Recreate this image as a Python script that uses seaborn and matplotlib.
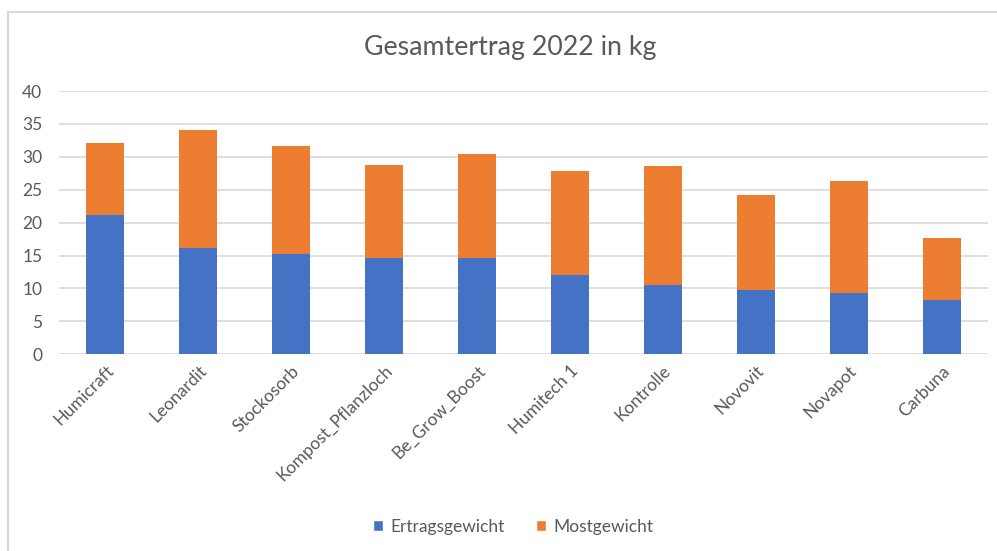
"""
Gesamtertrag 2022 in kg - stacked bars (Ertragsgewicht + Mostgewicht)
"""
import pandas as pd
import matplotlib.pyplot as plt
import seaborn as sns
from matplotlib.patches import Patch, Rectangle

# data
varianten = ['Humicraft', 'Leonardit', 'Stockosorb', 'Kompost_Pflanzloch', 'Be_Grow_Boost',
             'Humitech 1', 'Kontrolle', 'Novovit', 'Novapot', 'Carbuna']
ertragsgewicht = [21.1, 16.2, 15.3, 14.6, 14.6, 12.0, 10.6, 9.7, 9.3, 8.2]
mostgewicht = [11.0, 17.9, 16.3, 14.1, 15.9, 15.9, 18.0, 14.5, 17.1, 9.4]
y_ticks = [0, 5, 10, 15, 20, 25, 30, 35, 40]

BLUE = '#4472C4'
ORANGE = '#ED7D31'
TEXT = '#595959'
GRID = '#D9D9D9'

sns.set_theme(style='white')
plt.rcParams['font.family'] = ['Lato', 'DejaVu Sans']

df = pd.DataFrame({'Variante': varianten,
                   'Ertragsgewicht': ertragsgewicht,
                   'Mostgewicht': mostgewicht})
df['Gesamt'] = df['Ertragsgewicht'] + df['Mostgewicht']

fig = plt.figure(figsize=(9.97, 5.51), dpi=100)
# chart area border like in Excel
fig.patches.append(Rectangle((8 / 997, -0.1), 1.2, 1 - 12 / 551 + 0.1,
                             transform=fig.transFigure, fill=False,
                             edgecolor=GRID, linewidth=1.5))

ax = fig.add_axes([59 / 997, 1 - 354.3 / 551, (988 - 59) / 997, (354.3 - 91) / 551])

# totals first (orange), blue part on top of it from zero
sns.barplot(data=df, x='Variante', y='Gesamt', color=ORANGE, width=0.41,
            saturation=1, linewidth=0, ax=ax, zorder=3)
sns.barplot(data=df, x='Variante', y='Ertragsgewicht', color=BLUE, width=0.41,
            saturation=1, linewidth=0, ax=ax, zorder=3)

ax.set_ylim(0, 40)
ax.set_xlim(-0.5, len(varianten) - 0.5)
ax.set_yticks(y_ticks)
ax.yaxis.grid(True, color=GRID, linewidth=1.2, zorder=0)
ax.set_axisbelow(True)
for s in ax.spines.values():
    s.set_visible(False)
ax.set_xlabel('')
ax.set_ylabel('')
ax.tick_params(axis='y', length=0, colors=TEXT, labelsize=12.5, pad=12)
ax.tick_params(axis='x', length=0, colors=TEXT, labelsize=12.5, pad=6)
for lbl in ax.get_xticklabels():
    lbl.set_rotation(45)
    lbl.set_ha('right')
    lbl.set_rotation_mode('anchor')

fig.text(510 / 997, 1 - 48 / 551, 'Gesamtertrag 2022 in kg', ha='center', va='center',
         fontsize=19.3, color=TEXT)

handles = [Patch(facecolor=BLUE, label='Ertragsgewicht'),
           Patch(facecolor=ORANGE, label='Mostgewicht')]
fig.legend(handles=handles, loc='center', bbox_to_anchor=(513 / 997, 1 - 527 / 551),
           ncol=2, frameon=False, fontsize=12.5, labelcolor=TEXT,
           handlelength=0.6, handleheight=0.6, handletextpad=0.4, columnspacing=1.8)

fig.savefig('out.png', dpi=100)
